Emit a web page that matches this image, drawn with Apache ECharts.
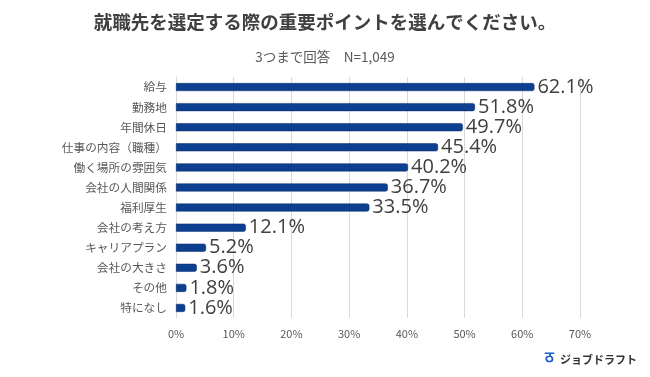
<!DOCTYPE html>
<html><head><meta charset="utf-8">
<script src="https://cdn.jsdelivr.net/npm/echarts@6/dist/echarts.min.js"></script>
<style>html,body{margin:0;padding:0;background:#fff}#c{width:650px;height:377px}</style>
</head><body><div id="c"></div>
<script>
const categories = ['給与','勤務地','年間休日','仕事の内容（職種）','働く場所の雰囲気','会社の人間関係','福利厚生','会社の考え方','キャリアプラン','会社の大きさ','その他','特になし'];
const values = [62.1,51.8,49.7,45.4,40.2,36.7,33.5,12.1,5.2,3.6,1.8,1.6];
const xTicks = [0,10,20,30,40,50,60,70];
const titleText = '就職先を選定する際の重要ポイントを選んでください。';
const subText = '3つまで回答　N=1,049';
const logoText = 'ジョブドラフト';
const font = '"Noto Sans CJK JP", "Noto Sans", sans-serif';
const chart = echarts.init(document.getElementById('c'));
chart.setOption({
  backgroundColor:'#fff',
  animation:false,
  title:[
    {text:titleText,left:'center',top:8,textStyle:{fontFamily:font,fontSize:18.5,fontWeight:'bold',color:'#404040'}},
    {text:subText,left:'center',top:45,textStyle:{fontFamily:font,fontSize:13.5,fontWeight:'normal',color:'#595959'}}
  ],
  grid:{left:176,right:70,top:77,bottom:59},
  xAxis:{type:'value',min:0,max:70,interval:10,
    axisLabel:{formatter:v=>v+'%',color:'#595959',fontFamily:font,fontSize:11,margin:10},
    splitLine:{lineStyle:{color:'#d9d9d9'}},axisLine:{show:false},axisTick:{show:false}},
  yAxis:{type:'category',data:categories,inverse:true,
    axisLabel:{color:'#595959',fontFamily:font,fontSize:11.7,margin:9},
    axisLine:{show:true,lineStyle:{color:'#d9d9d9'}},axisTick:{show:false}},
  series:[{type:'bar',data:values,barWidth:8,
    itemStyle:{color:'#0d3f91',borderColor:'#072a66',borderWidth:0.5,borderRadius:[0,2,2,0]},
    label:{show:true,position:'right',distance:3,formatter:p=>p.value.toFixed(1)+'%',color:'#404040',fontFamily:'"Open Sans", "Noto Sans", sans-serif',fontSize:20}
  }],
  graphic:[
    {type:'text',left:560,top:354,style:{text:logoText,fill:'#333333',font:'bold 11px '+font}},
    {type:'text',left:545,top:350,style:{text:'ठ',fill:'#1a5cc8',font:'bold 15px sans-serif'}}
  ]
});
</script></body></html>
